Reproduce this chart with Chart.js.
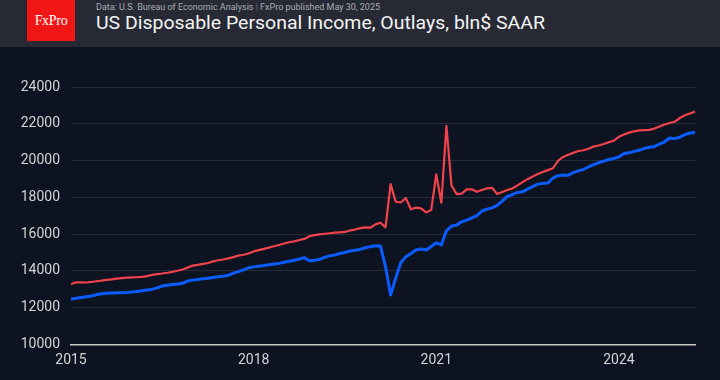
<!DOCTYPE html>
<html>
<head>
<meta charset="utf-8">
<script src="https://cdn.jsdelivr.net/npm/chart.js@4/dist/chart.umd.min.js"></script>
<style>
  html, body { margin:0; padding:0; }
  body { width:720px; height:380px; background:#0d1320; position:relative; overflow:hidden; font-family: Roboto, "Noto Sans", sans-serif; }
  #hdr { position:absolute; left:0; top:0; width:720px; height:47px; background:#272a35; }
  #logo { position:absolute; left:27px; top:0; width:48px; height:41px; background:#f11616; color:#fff;
          font-family:"Liberation Serif","DejaVu Serif",serif; font-size:14px; line-height:41px; text-align:center; letter-spacing:-0.3px; }
  #sub { position:absolute; left:96px; top:2px; font-size:9.5px; line-height:10px; color:#a8aab2; white-space:nowrap; transform-origin:0 0; }
  #sub .sep { color:#6c6f78; }
  #title { position:absolute; left:96px; top:14px; font-size:18px; line-height:18px; color:#f4f4f4; white-space:nowrap; transform-origin:0 0; }
  #wrap { position:absolute; left:0; top:47px; width:720px; height:333px; }
</style>
</head>
<body>
<div id="hdr">
  <div id="logo">FxPro</div>
  <div id="sub">Data: U.S. Bureau of Economic Analysis <span class="sep">|</span> FxPro published May 30, 2025</div>
  <div id="title">US Disposable Personal Income, Outlays, bln$ SAAR</div>
</div>
<div id="wrap"><canvas id="c" width="720" height="333"></canvas></div>
<script>
// ---- data (bln$ SAAR, monthly Jan 2015 – Apr 2025) ----
const startYear = 2015;
const endYear = 2025, endMonth = 4;
const tickYears = ['2015', '2018', '2021', '2024'];

const disposableIncome = [
  13290,13380,13380,13370,13400,13440,13470,13510,13540,13580,13610,13640,
  13650,13660,13680,13720,13790,13830,13860,13900,13950,14010,14080,14180,
  14290,14330,14380,14430,14520,14580,14620,14680,14750,14830,14880,14950,
  15060,15130,15200,15270,15340,15410,15490,15560,15610,15680,15740,15890,
  15950,15990,16020,16050,16080,16100,16120,16200,16250,16330,16370,16350,
  16530,16620,16370,18720,17760,17720,17960,17350,17440,17400,17180,17310,
  19250,17710,21890,18650,18180,18200,18430,18440,18300,18400,18490,18520,
  18180,18290,18400,18480,18650,18830,18990,19130,19270,19380,19480,19580,
  19990,20200,20320,20420,20520,20560,20640,20760,20820,20900,21000,21080,
  21290,21420,21520,21590,21640,21660,21670,21740,21850,21960,22040,22110,
  22310,22460,22560,22660
];

const personalOutlays = [
  12470,12510,12560,12600,12640,12700,12760,12790,12800,12810,12820,12830,
  12850,12880,12920,12960,13000,13080,13180,13220,13260,13290,13330,13450,
  13500,13530,13570,13600,13640,13680,13710,13760,13880,13960,14060,14170,
  14220,14260,14290,14330,14380,14410,14470,14530,14580,14650,14720,14550,
  14580,14630,14740,14820,14870,14950,15010,15080,15120,15170,15260,15320,
  15370,15350,14230,12690,13600,14450,14770,14950,15140,15190,15140,15330,
  15530,15410,16180,16440,16490,16670,16760,16890,17000,17260,17360,17430,
  17560,17800,18050,18150,18270,18300,18450,18580,18720,18760,18780,19050,
  19180,19210,19200,19340,19440,19520,19650,19780,19880,19970,20060,20110,
  20200,20380,20420,20500,20560,20660,20720,20760,20900,21020,21230,21190,
  21270,21410,21500,21530
];

// month categories
const months = [];
for (let y = startYear; y <= endYear; y++) {
  for (let m = 1; m <= 12; m++) {
    if (y === endYear && m > endMonth) break;
    months.push(y + '-' + String(m).padStart(2, '0'));
  }
}

// fit header text widths
function fitWidth(id, target) {
  const el = document.getElementById(id);
  const w = el.getBoundingClientRect().width;
  el.style.transform = 'scaleX(' + (target / w) + ')';
}
fitWidth('title', 449);
fitWidth('sub', 284);

new Chart(document.getElementById('c'), {
  type: 'line',
  data: {
    labels: months,
    datasets: [
      {
        label: 'Disposable Personal Income',
        data: disposableIncome,
        borderColor: '#f0434b',
        borderWidth: 2.2,
        pointRadius: 0,
        tension: 0,
        borderJoinStyle: 'round'
      },
      {
        label: 'Personal Outlays',
        data: personalOutlays,
        borderColor: '#0a5cff',
        borderWidth: 3,
        pointRadius: 0,
        tension: 0,
        borderJoinStyle: 'round'
      }
    ]
  },
  options: {
    responsive: false,
    animation: false,
    devicePixelRatio: 1,
    layout: { padding: { top: 40, right: 25, bottom: 0, left: 0 } },
    plugins: { legend: { display: false }, tooltip: { enabled: false } },
    scales: {
      x: {
        type: 'category',
        offset: false,
        grid: { display: false, drawTicks: false },
        border: { display: true, color: '#c9c9c9', width: 1.5 },
        afterFit: (axis) => { axis.height = 35.5; },
        ticks: {
          autoSkip: false,
          maxRotation: 0,
          minRotation: 0,
          padding: 8,
          color: '#d4d4d6',
          font: { family: 'Roboto', size: 14 },
          callback: function (val, idx) {
            const lab = months[idx];
            if (lab.endsWith('-01') && tickYears.includes(lab.slice(0, 4))) return lab.slice(0, 4);
            return null;
          }
        }
      },
      y: {
        min: 10000,
        max: 24000,
        grid: { color: '#262b38', lineWidth: 1, drawTicks: false },
        border: { display: false },
        afterFit: (axis) => { axis.width = 71; },
        ticks: {
          stepSize: 2000,
          padding: 11,
          color: '#d4d4d6',
          font: { family: 'Roboto', size: 14 },
          callback: (v) => String(v)
        }
      }
    }
  }
});
</script>
</body>
</html>
